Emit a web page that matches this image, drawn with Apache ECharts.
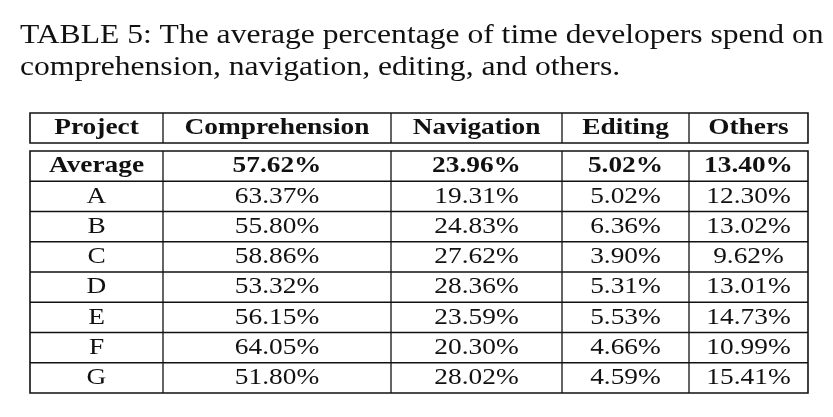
<!DOCTYPE html>
<html>
<head>
<meta charset="utf-8">
<script src="https://cdn.jsdelivr.net/npm/echarts@6/dist/echarts.min.js"></script>
<style>html,body{margin:0;padding:0;background:#fff}#main{width:833px;height:417px}</style>
</head>
<body>
<div id="main"></div>
<script>
const headers = ['Project', 'Comprehension', 'Navigation', 'Editing', 'Others'];
const projects = ['Average', 'A', 'B', 'C', 'D', 'E', 'F', 'G'];
const comprehension = [57.62, 63.37, 55.80, 58.86, 53.32, 56.15, 64.05, 51.80];
const navigation = [23.96, 19.31, 24.83, 27.62, 28.36, 23.59, 20.30, 28.02];
const editing = [5.02, 5.02, 6.36, 3.90, 5.31, 5.53, 4.66, 4.59];
const others = [13.40, 12.30, 13.02, 9.62, 13.01, 14.73, 10.99, 15.41];

const chart = echarts.init(document.getElementById('main'));
const font = '"Liberation Serif", "DejaVu Serif", serif';
const colX = [30, 163, 391, 562, 689, 808];
const headTop = 113, headBot = 143, bodyTop = 151;
const rowH = 30.25;
const bodyBot = bodyTop + rowH * projects.length;
const pct = v => v.toFixed(2) + '%';

let g = [];
// title
g.push({ type: 'text', x: 20, y: 22, scaleX: 1.17, style: { text: 'TABLE 5: The average percentage of time developers spend on', font: '27px ' + font, fill: '#111' } });
g.push({ type: 'text', x: 20, y: 54, scaleX: 1.17, style: { text: 'comprehension, navigation, editing, and others.', font: '27px ' + font, fill: '#111' } });

function box(y1, y2) {
  g.push({ type: 'rect', shape: { x: colX[0], y: y1, width: colX[5] - colX[0], height: y2 - y1 }, style: { fill: 'none', stroke: '#111', lineWidth: 1.6 } });
  for (let i = 1; i < 5; i++) {
    g.push({ type: 'line', shape: { x1: colX[i], y1: y1, x2: colX[i], y2: y2 }, style: { stroke: '#111', lineWidth: 1.3 } });
  }
}
box(headTop, headBot);
box(bodyTop, bodyBot);
for (let r = 1; r < projects.length; r++) {
  const y = bodyTop + rowH * r;
  g.push({ type: 'line', shape: { x1: colX[0], y1: y, x2: colX[5], y2: y }, style: { stroke: '#111', lineWidth: 1.3 } });
}
function cell(ci, cy, txt, bold) {
  g.push({ type: 'text', x: (colX[ci] + colX[ci + 1]) / 2, y: cy, scaleX: 1.14, style: { text: txt, font: (bold ? 'bold ' : '') + '24px ' + font, fill: '#111', align: 'center', verticalAlign: 'middle' } });
}
headers.forEach((h, i) => cell(i, (headTop + headBot) / 2, h, true));
projects.forEach((p, r) => {
  const cy = bodyTop + rowH * (r + 0.5);
  const b = r === 0;
  cell(0, cy, p, b);
  cell(1, cy, pct(comprehension[r]), b);
  cell(2, cy, pct(navigation[r]), b);
  cell(3, cy, pct(editing[r]), b);
  cell(4, cy, pct(others[r]), b);
});

chart.setOption({ backgroundColor: '#fff', animation: false, graphic: g });
</script>
</body>
</html>
